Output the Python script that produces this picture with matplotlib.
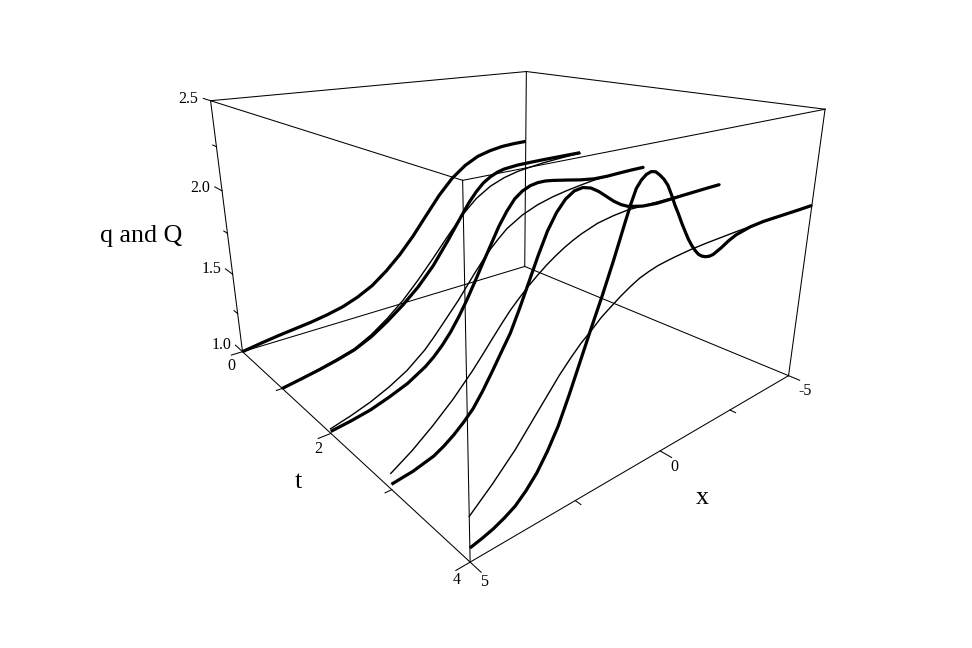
import matplotlib
matplotlib.use("Agg")
import matplotlib.pyplot as plt

plt.rcParams['font.family'] = ['Liberation Serif', 'DejaVu Serif']

# q (thick) and Q (thin), one pair of lists per t
coarse_x = [5, 4.5, 4, 3.5, 3, 2.5, 2, 1.5, 1, 0.5, 0, -0.5, -1, -1.5, -2, -2.5, -3, -3.5, -4, -4.5, -5]

q0_x = coarse_x
q0_z = [1.0, 1.018, 1.034, 1.047, 1.060, 1.078, 1.102, 1.140, 1.192, 1.268, 1.360, 1.470, 1.595, 1.718, 1.820, 1.893, 1.942, 1.968, 1.984, 1.990, 1.992]

q1_x = [5, 4.5, 4, 3.5, 3, 2.5, 2, 1.5, 1, 0.5, 0, -0.5, -0.75, -1, -1.25, -1.5, -1.75, -2, -2.5, -3, -3.5, -4, -4.5, -5]
q1_z = [1.0, 1.018, 1.037, 1.060, 1.088, 1.135, 1.200, 1.275, 1.362, 1.470, 1.605, 1.750, 1.82, 1.878, 1.925, 1.955, 1.976, 1.988, 1.997, 1.999, 2.0, 2.0, 2.0, 2.0]
Q1_x = coarse_x
Q1_z = [1.0, 1.02, 1.042, 1.066, 1.095, 1.148, 1.219, 1.303, 1.405, 1.517, 1.634, 1.746, 1.835, 1.895, 1.932, 1.955, 1.968, 1.979, 1.986, 1.992, 1.996]

q2_x = [5, 4.5, 4, 3.5, 3, 2.5, 2.25, 2, 1.75, 1.5, 1.25, 1, 0.75, 0.5, 0.25, 0, -0.25, -0.5, -0.75, -1, -1.25, -1.5, -2, -2.5, -3, -3.5, -4, -4.5, -5]
q2_z = [1.011, 1.025, 1.044, 1.076, 1.114, 1.172, 1.212, 1.262, 1.322, 1.395, 1.478, 1.570, 1.665, 1.757, 1.85, 1.925, 1.985, 2.02, 2.04, 2.048, 2.048, 2.042, 2.026, 2.009, 1.997, 1.995, 1.998, 2.0, 2.0]
Q2_x = [5, 4.5, 4, 3.5, 3, 2.5, 2.25, 2, 1.75, 1.5, 1.25, 1, 0.75, 0.5, 0.25, 0, -0.5, -1, -1.5, -2, -2.5, -3, -3.5, -4, -4.5, -5]
Q2_z = [1.026, 1.054, 1.088, 1.133, 1.190, 1.270, 1.322, 1.378, 1.435, 1.492, 1.556, 1.620, 1.68, 1.735, 1.782, 1.825, 1.882, 1.920, 1.945, 1.963, 1.977, 1.989, 1.995, 1.998, 2.0, 2.0]

q3_x = [5, 4.5, 4, 3.75, 3.5, 3.25, 3, 2.75, 2.5, 2.25, 2, 1.75, 1.5, 1.25, 1, 0.75, 0.5, 0.25, 0, -0.25, -0.5, -0.75, -1, -1.25, -1.5, -2, -2.5, -3, -3.5, -4, -4.5, -5]
q3_z = [1.028, 1.043, 1.072, 1.100, 1.135, 1.178, 1.228, 1.298, 1.378, 1.462, 1.545, 1.655, 1.773, 1.892, 2.0, 2.08, 2.135, 2.165, 2.172, 2.160, 2.133, 2.098, 2.063, 2.035, 2.015, 1.996, 1.990, 1.992, 1.995, 1.997, 1.999, 2.0]
Q3_x = [5, 4.5, 4, 3.5, 3, 2.75, 2.5, 2.25, 2, 1.75, 1.5, 1.25, 1, 0.75, 0.5, 0.25, 0, -0.5, -1, -1.5, -2, -2.5, -3, -3.5, -4, -4.5, -5]
Q3_z = [1.084, 1.150, 1.230, 1.32, 1.425, 1.484, 1.545, 1.605, 1.662, 1.71, 1.755, 1.795, 1.832, 1.864, 1.893, 1.917, 1.938, 1.970, 1.987, 1.997, 1.997, 1.997, 1.997, 1.998, 1.999, 2.0, 2.0]

q4_x = [5, 4.75, 4.5, 4.25, 4, 3.75, 3.5, 3.25, 3, 2.75, 2.5, 2.25, 2, 1.75, 1.5, 1.375, 1.25, 1.125, 1, 0.875, 0.75, 0.625, 0.5, 0.375, 0.25, 0.125, 0,
        -0.125, -0.25, -0.375, -0.5, -0.625, -0.75, -0.875, -1, -1.125, -1.25, -1.5, -1.75, -2, -2.5, -3, -3.5, -4, -4.5, -5]
q4_z = [1.066, 1.078, 1.093, 1.115, 1.143, 1.188, 1.245, 1.322, 1.415, 1.535, 1.665, 1.795, 1.920, 2.055, 2.200, 2.270, 2.330, 2.36, 2.378, 2.385, 2.38, 2.362, 2.340, 2.31, 2.265, 2.215, 2.172,
        2.125, 2.082, 2.04, 2.005, 1.975, 1.950, 1.935, 1.926, 1.922, 1.924, 1.942, 1.965, 1.982, 1.998, 2.003, 2.002, 2.001, 2.0, 2.0]
Q4_x = [5, 4.5, 4, 3.5, 3, 2.75, 2.5, 2.25, 2, 1.75, 1.5, 1.25, 1, 0.75, 0.5, 0.25, 0, -0.5, -1, -1.5, -2, -2.5, -3, -3.5, -4, -4.5, -5]
Q4_z = [1.211, 1.302, 1.404, 1.525, 1.645, 1.697, 1.745, 1.783, 1.825, 1.857, 1.888, 1.915, 1.938, 1.953, 1.965, 1.972, 1.978, 1.987, 1.992, 1.995, 1.998, 2.0, 2.0, 2.0, 2.0, 2.0, 2.0]

thick = [(0, q0_x, q0_z), (1, q1_x, q1_z), (2, q2_x, q2_z), (3, q3_x, q3_z), (4, q4_x, q4_z)]
thin = [(1, Q1_x, Q1_z), (2, Q2_x, Q2_z), (3, Q3_x, Q3_z), (4, Q4_x, Q4_z)]

x_ticks = [5, 2.5, 0, -2.5, -5]
t_ticks = [0, 1, 2, 3, 4]
z_ticks = [1.0, 1.25, 1.5, 1.75, 2.0, 2.25, 2.5]

x_lo, x_hi = -5, 5
t_lo, t_hi = 0, 4
z_lo, z_hi = 1, 2.5

W, H = 972, 648
fig = plt.figure(figsize=(W / 100, H / 100), dpi=100)
# square axes, placed so that the box lands where it does in the picture
ax = fig.add_axes([187.45 / W, 86.93 / H, 622 / W, 622 / H], projection="3d")
ax.set_xlim(x_lo, x_hi)
ax.set_ylim(t_lo, t_hi)
ax.set_zlim(z_lo, z_hi)
ax.view_init(18.8794, 50.1477)
ax.set_proj_type("persp", focal_length=0.2226)
ax.set_box_aspect((1.509, 1.5148, 1.0035))
ax.set_axis_off()

def edge(a, b):
    ax.plot([a[0], b[0]], [a[1], b[1]], [a[2], b[2]], color="black", lw=0.75, clip_on=False)

# box
for z in (z_lo, z_hi):
    edge((x_hi, t_lo, z), (x_hi, t_hi, z))
    edge((x_hi, t_hi, z), (x_lo, t_hi, z))
    edge((x_lo, t_hi, z), (x_lo, t_lo, z))
    edge((x_lo, t_lo, z), (x_hi, t_lo, z))
for xv in (x_lo, x_hi):
    for tv in (t_lo, t_hi):
        edge((xv, tv, z_lo), (xv, tv, z_hi))

# ticks, every other one is short
for i, xv in enumerate(x_ticks):
    edge((xv, t_hi, z_lo), (xv, t_hi + (0.12 if i % 2 == 0 else 0.06), z_lo))
for i, tv in enumerate(t_ticks):
    edge((x_hi, tv, z_lo), (x_hi + (0.3 if i % 2 == 0 else 0.15), tv, z_lo))
for i, zv in enumerate(z_ticks):
    edge((x_hi, t_lo, zv), (x_hi, t_lo - (0.2 if i % 2 == 0 else 0.1), zv))

for tv, xs, zs in thin:
    ax.plot(xs, [tv] * len(xs), zs, color="black", lw=1.0, solid_joinstyle="round", clip_on=False)
for tv, xs, zs in thick:
    ax.plot(xs, [tv] * len(xs), zs, color="black", lw=2.3, solid_joinstyle="round", solid_capstyle="butt", clip_on=False)

def label(px, py, s, size=11.5):
    fig.text(px / W, 1 - py / H, s, fontsize=size, ha="center", va="center", color="black")

label(188, 99, "2.5")
label(200, 188, "2.0")
label(212, 269, "1.5")
label(222, 345, "1.0")
label(231, 366, "0")
label(318, 449, "2")
label(457, 580, "4")
label(484, 582, "5")
label(674, 467, "0")
label(805, 391, "-5")
label(141, 236, "q and Q", 18.7)
label(298, 482, "t", 18.7)
label(702, 498, "x", 18.7)

fig.savefig("out.png", dpi=100, facecolor="white")
